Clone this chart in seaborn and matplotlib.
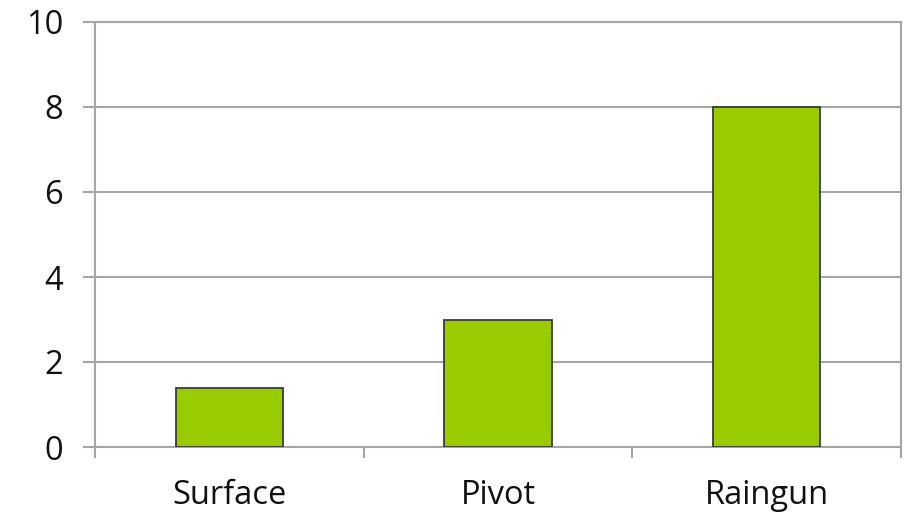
import matplotlib
matplotlib.use("Agg")
import matplotlib.pyplot as plt
import seaborn as sns
import pandas as pd
from matplotlib.ticker import FixedLocator

# data
categories = ["Surface", "Pivot", "Raingun"]
values = [1.4, 3.0, 8.0]

df = pd.DataFrame({"cat": categories, "val": values})

sns.set_style("white")
plt.rcParams["font.family"] = ["Open Sans", "DejaVu Sans"]

fig = plt.figure(figsize=(9.06, 5.18), dpi=100)
ax = fig.add_axes([95 / 906, 71 / 518, 806 / 906, 425 / 518])

sns.barplot(data=df, x="cat", y="val", color="#99CC00", width=0.4,
            edgecolor="#3a3a3a", linewidth=1.3, saturation=1, ax=ax, zorder=3)

ax.set_xlim(-0.5, 2.5)
ax.set_ylim(0, 10)
ax.set_yticks([0, 2, 4, 6, 8, 10])
ax.yaxis.grid(True, color="#a6a6a6", linewidth=1.5, zorder=0)
ax.set_axisbelow(True)

# category boundary ticks on x
ax.xaxis.set_minor_locator(FixedLocator([-0.5, 0.5, 1.5, 2.5]))
ax.tick_params(axis="x", which="major", length=0, pad=23, labelsize=23.5, labelcolor="#111111")
ax.tick_params(axis="x", which="minor", length=8, width=1.5, color="#a6a6a6", direction="out", bottom=True)
ax.tick_params(axis="y", length=9, width=1.5, color="#a6a6a6", direction="out", left=True,
               labelsize=23.5, labelcolor="#111111", pad=14)

for side in ["left", "right", "bottom", "top"]:
    ax.spines[side].set_visible(True)
    ax.spines[side].set_color("#a6a6a6")
    ax.spines[side].set_linewidth(1.5)

ax.set_xlabel("")
ax.set_ylabel("")

fig.savefig("out.png", dpi=100)
